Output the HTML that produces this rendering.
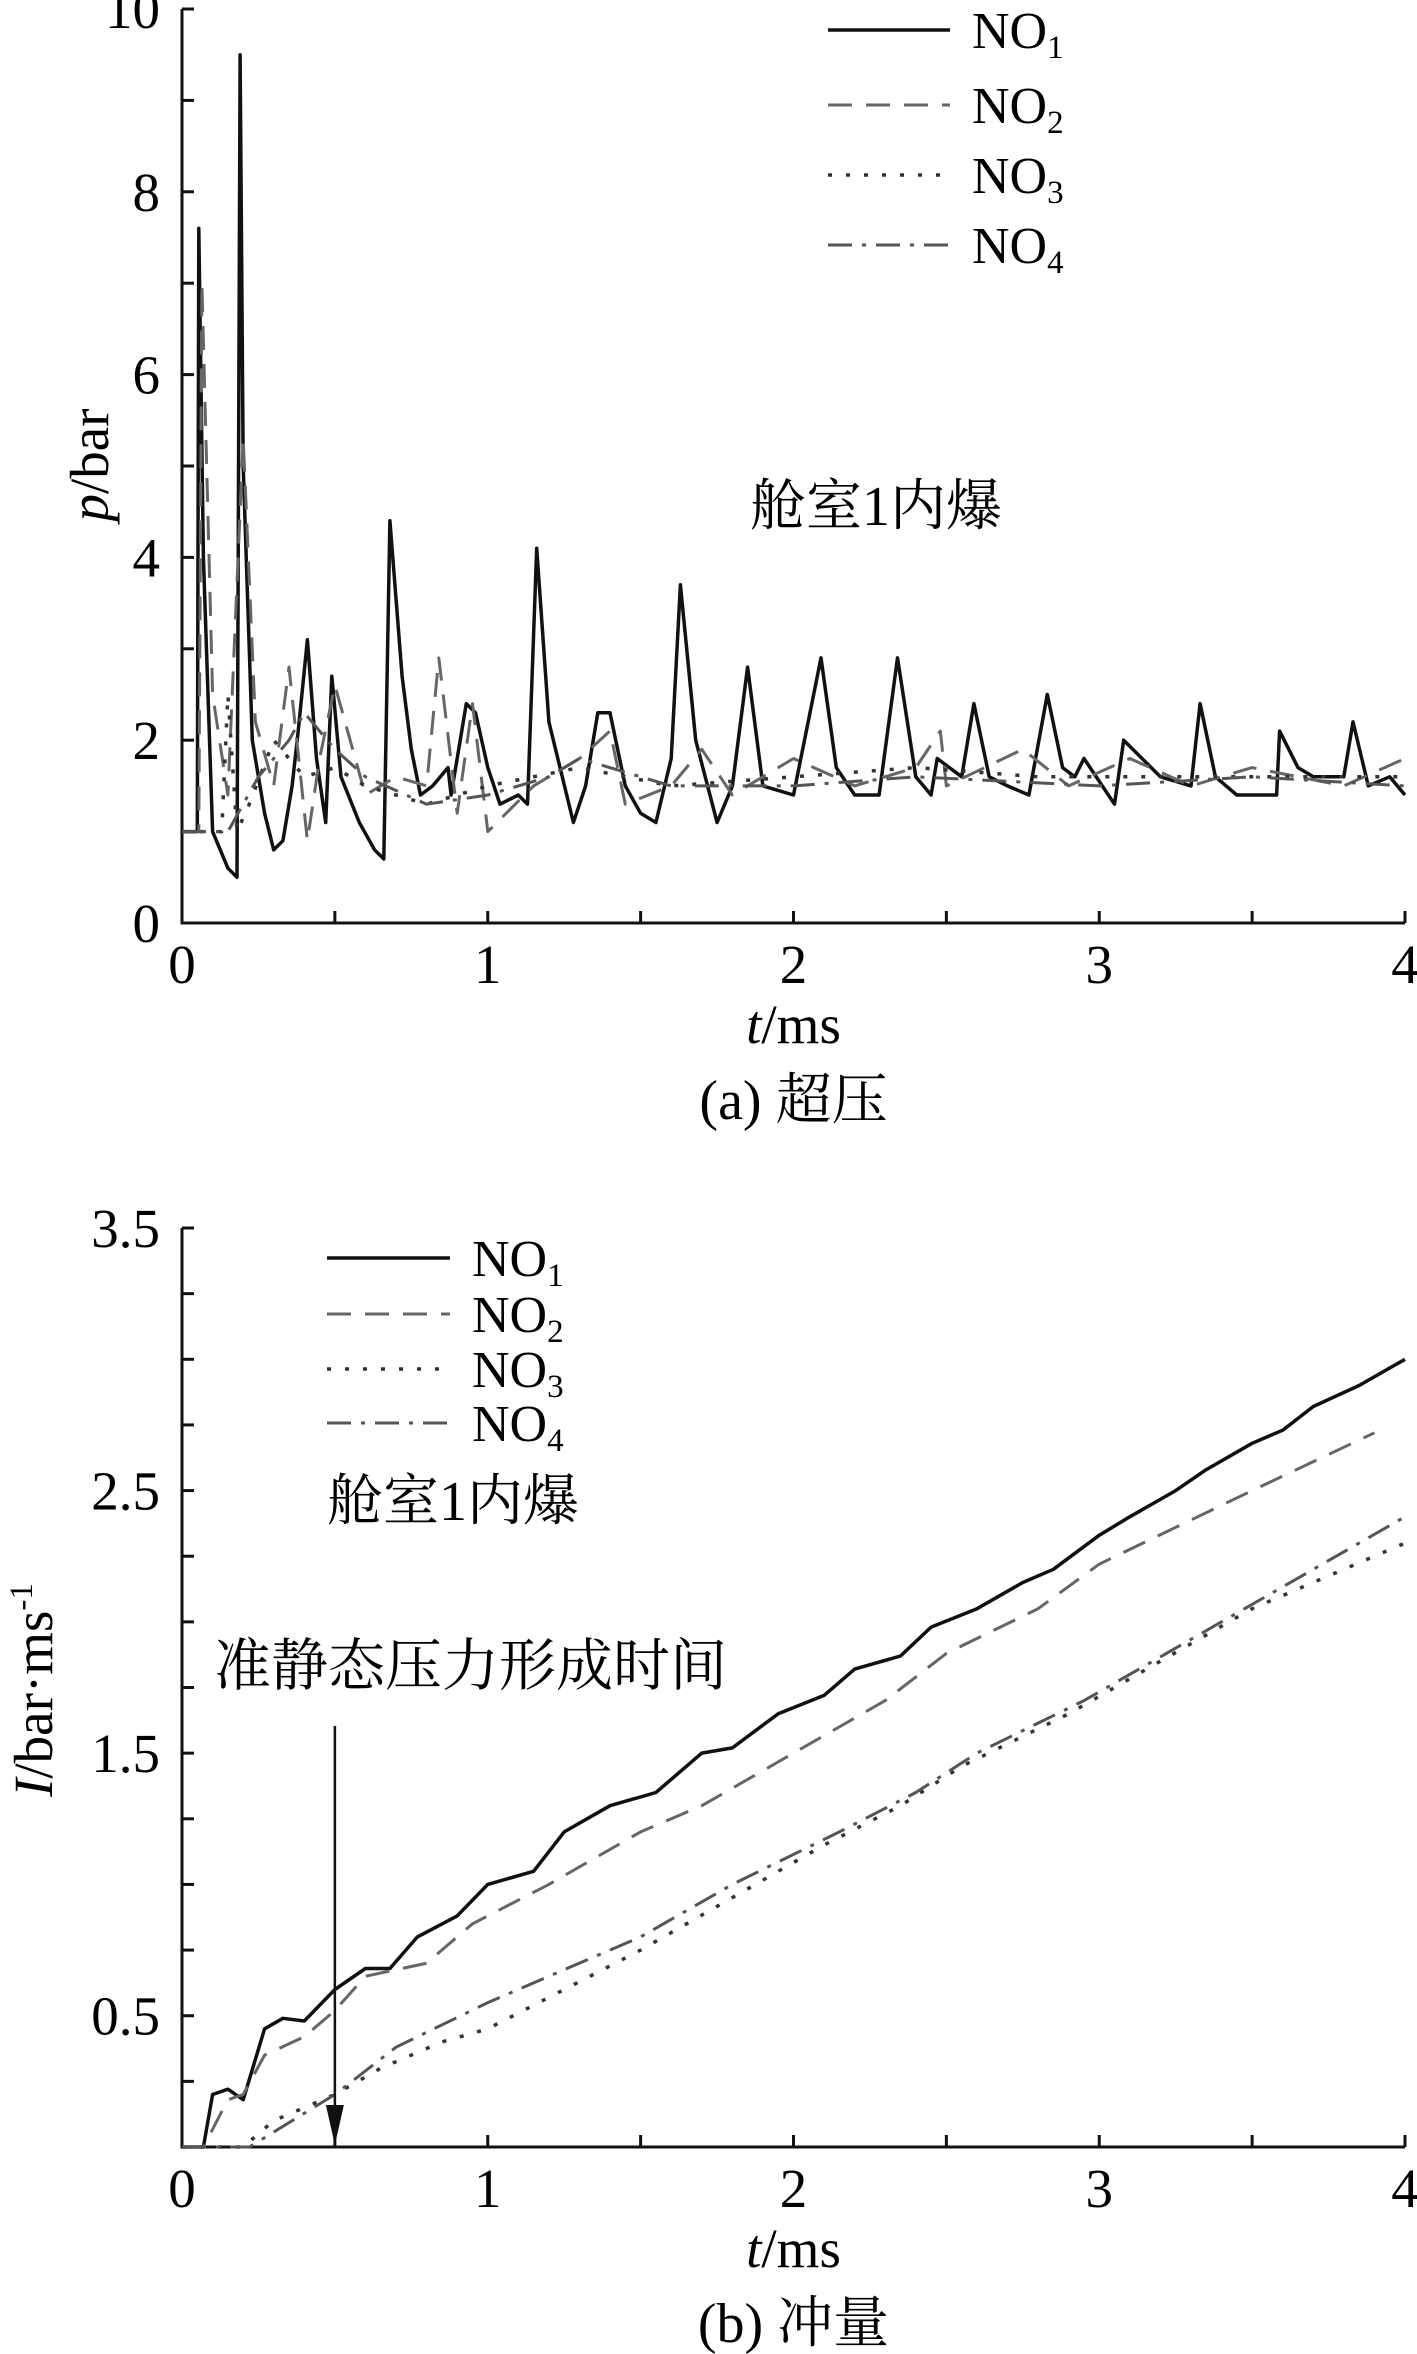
<!DOCTYPE html>
<html><head><meta charset="utf-8">
<style>
html,body{margin:0;padding:0;background:#fff;}
svg{display:block;font-family:"Liberation Serif","Noto Serif CJK SC",serif;}
</style></head>
<body>
<svg id="fig" width="1417" height="2354" viewBox="0 0 1417 2354" xmlns="http://www.w3.org/2000/svg"></svg>
<script>
// ---- data: (a) overpressure ----
const aT1=[0,0.05,0.055,0.07,0.1,0.15,0.18,0.19,0.2,0.23,0.27,0.3,0.33,0.36,0.38,0.41,0.44,0.47,0.49,0.52,0.58,0.63,0.66,0.68,0.72,0.75,0.78,0.82,0.87,0.88,0.93,0.96,1.0,1.04,1.1,1.13,1.16,1.2,1.28,1.32,1.36,1.4,1.45,1.5,1.55,1.6,1.63,1.68,1.75,1.8,1.85,1.9,2.0,2.09,2.14,2.2,2.28,2.34,2.4,2.45,2.47,2.55,2.59,2.64,2.7,2.77,2.83,2.88,2.92,2.95,3.05,3.08,3.2,3.3,3.33,3.38,3.45,3.58,3.59,3.65,3.7,3.8,3.83,3.88,3.95,4.0];
const aP1=[1.0,1.0,7.6,4.0,1.0,0.6,0.5,9.5,5.0,2.0,1.2,0.8,0.9,1.5,2.1,3.1,1.8,1.1,2.7,1.6,1.1,0.8,0.7,4.4,2.7,1.9,1.4,1.5,1.7,1.4,2.4,2.3,1.7,1.3,1.4,1.3,4.1,2.2,1.1,1.5,2.3,2.3,1.5,1.2,1.1,1.8,3.7,2.0,1.1,1.5,2.8,1.5,1.4,2.9,1.7,1.4,1.4,2.9,1.6,1.4,1.8,1.6,2.4,1.6,1.5,1.4,2.5,1.7,1.6,1.8,1.3,2.0,1.6,1.5,2.4,1.6,1.4,1.4,2.1,1.7,1.6,1.6,2.2,1.5,1.6,1.4];
const aT2=[0,0.055,0.065,0.1,0.15,0.2,0.24,0.3,0.35,0.41,0.45,0.5,0.6,0.7,0.8,0.84,0.9,0.95,1.0,1.15,1.3,1.4,1.45,1.6,1.7,1.8,2.0,2.2,2.4,2.48,2.5,2.75,2.9,3.1,3.3,3.5,3.8,4.0];
const aP2=[1.0,1.0,7.0,2.5,1.4,5.3,2.2,1.5,2.8,0.9,1.8,2.6,1.4,1.6,1.5,2.9,1.2,2.4,1.0,1.5,1.8,2.1,1.3,1.5,1.9,1.4,1.8,1.5,1.7,2.1,1.5,1.9,1.5,1.8,1.5,1.7,1.5,1.8];
const aT3=[0,0.13,0.15,0.18,0.22,0.3,0.4,0.5,0.6,0.8,1.0,1.3,1.6,2.0,2.4,2.8,3.2,3.6,4.0];
const aP3=[1.0,1.0,2.5,1.0,1.3,2.0,1.6,1.7,1.5,1.3,1.5,1.7,1.5,1.6,1.7,1.6,1.6,1.6,1.6];
const aT4=[0,0.15,0.25,0.35,0.4,0.5,0.6,0.8,1.0,1.2,1.3,1.6,2.0,2.4,3.0,3.5,4.0];
const aP4=[1.0,1.0,1.6,2.0,2.3,1.9,1.6,1.3,1.4,1.6,1.8,1.5,1.5,1.6,1.5,1.6,1.5];
// ---- data: (b) impulse ----
const bT1=[0,0.07,0.1,0.15,0.2,0.27,0.33,0.4,0.5,0.6,0.68,0.77,0.9,1.0,1.15,1.25,1.4,1.55,1.7,1.8,1.95,2.1,2.2,2.35,2.45,2.6,2.75,2.85,3.0,3.1,3.25,3.35,3.5,3.6,3.7,3.85,4.0];
const bI1=[0,0,0.2,0.22,0.18,0.45,0.49,0.48,0.6,0.68,0.68,0.8,0.88,1.0,1.05,1.2,1.3,1.35,1.5,1.52,1.65,1.72,1.82,1.87,1.98,2.05,2.15,2.2,2.33,2.4,2.5,2.58,2.68,2.73,2.82,2.9,3.0];
const bT2=[0,0.07,0.15,0.2,0.27,0.4,0.5,0.6,0.8,0.95,1.2,1.5,1.7,2.0,2.3,2.5,2.8,3.0,3.5,3.9];
const bI2=[0,0,0.18,0.2,0.35,0.42,0.52,0.65,0.7,0.85,1.0,1.2,1.3,1.5,1.7,1.88,2.05,2.22,2.5,2.72];
const bT3=[0,0.2,0.3,0.5,0.65,0.85,1.0,1.25,1.5,1.8,2.1,2.35,2.55,2.9,3.2,3.5,4.0];
const bI3=[0,0,0.1,0.2,0.3,0.4,0.45,0.6,0.75,0.95,1.15,1.3,1.45,1.65,1.85,2.05,2.3];
const bT4=[0,0.22,0.5,0.7,1.0,1.2,1.5,1.8,2.15,2.4,2.6,2.95,3.25,3.55,4.0];
const bI4=[0,0,0.2,0.38,0.55,0.65,0.8,1.0,1.2,1.35,1.5,1.7,1.9,2.1,2.4];
const xTicks=[0,1,2,3,4];
const aYTicks=[0,2,4,6,8,10];
const bYTicks=[0.5,1.5,2.5,3.5];

const NS="http://www.w3.org/2000/svg";
const svg=document.getElementById('fig');
function mk(tag,attrs,parent){const e=document.createElementNS(NS,tag);for(const k in attrs)e.setAttribute(k,attrs[k]);(parent||svg).appendChild(e);return e;}
const styles=[
 {stroke:'#111',dash:'',w:3.5},
 {stroke:'#666',dash:'24,14',w:3},
 {stroke:'#333',dash:'4,14',w:3.5},
 {stroke:'#555',dash:'24,10,4,10',w:3}
];
const X0=182,X1=1405;
function xs(t){return X0+(X1-X0)*t/4;}

function drawPanel(cfg){
  const g=mk('g',{});
  
  
  const ys=v=>cfg.y0+(cfg.yTop-cfg.y0)*(v-cfg.ymin)/(cfg.ymax-cfg.ymin);
  const ax=mk('path',{d:`M${X0},${ys(cfg.ymax)} L${X0},${cfg.y0} L${X1},${cfg.y0}`,stroke:'#111','stroke-width':3,fill:'none'},g);
  
  
  for(let t=0;t<=4.001;t+=0.5){mk('line',{x1:xs(t),x2:xs(t),y1:cfg.y0,y2:cfg.y0-12,stroke:'#111','stroke-width':3},g);}
  for(let v=cfg.ymin;v<=cfg.ymax+1e-6;v+=cfg.minor){mk('line',{x1:X0,x2:X0+12,y1:ys(v),y2:ys(v),stroke:'#111','stroke-width':3},g);}
  xTicks.forEach(t=>{const e=mk('text',{x:xs(t),y:cfg.y0+60,'font-size':55,'text-anchor':'middle'},g);e.textContent=t;
    
    });
  cfg.yTicks.forEach(v=>{const e=mk('text',{x:160,y:ys(v)+19,'font-size':55,'text-anchor':'end'},g);e.textContent=v;
    
    });
  cfg.series.forEach((s,i)=>{
    const d=s.t.map((t,j)=>(j?'L':'M')+xs(t).toFixed(1)+','+ys(s.v[j]).toFixed(1)).join(' ');
    const p=mk('path',{d:d,fill:'none',stroke:styles[i].stroke,'stroke-width':styles[i].w,'stroke-dasharray':styles[i].dash,'stroke-linejoin':'round'},g);
    
    
  });
  cfg.legY.forEach((y,i)=>{
    mk('line',{x1:cfg.legX1,x2:cfg.legX2,y1:y,y2:y,stroke:styles[i].stroke,'stroke-width':styles[i].w,'stroke-dasharray':styles[i].dash},g);
    const e=mk('text',{x:cfg.legTx,y:y+18,'font-size':52},g);
    e.innerHTML='NO<tspan font-size="33" dy="10">'+(i+1)+'</tspan>';
    
    
  });
  const xt=mk('text',{x:(X0+X1)/2,y:cfg.y0+120,'font-size':55,'text-anchor':'middle'},g);
  xt.innerHTML='<tspan font-style="italic">t</tspan>/ms';
  
  
  const cap=mk('text',{x:(X0+X1)/2,y:cfg.capY,'font-size':56,'text-anchor':'middle'},g);
  cap.textContent=cfg.caption;
  
  
  return ys;
}

drawPanel({name:'overpressure-chart',y0:923,yTop:9,ymin:0,ymax:10,minor:1,yTicks:aYTicks,
  series:[{t:aT1,v:aP1},{t:aT2,v:aP2},{t:aT3,v:aP3},{t:aT4,v:aP4}],
  legY:[30,105,175,245],legX1:828,legX2:950,legTx:972,capY:1119,caption:'(a) 超压'});
let e=mk('text',{x:108,y:465,'font-size':55,'text-anchor':'middle',transform:'rotate(-90 108 465)'});
e.innerHTML='<tspan font-style="italic">p</tspan>/bar';


e=mk('text',{x:750,y:525,'font-size':56});
e.textContent='舱室1内爆';



drawPanel({name:'impulse-chart',y0:2147,yTop:1228,ymin:0,ymax:3.5,minor:0.25,yTicks:bYTicks,
  series:[{t:bT1,v:bI1},{t:bT2,v:bI2},{t:bT3,v:bI3},{t:bT4,v:bI4}],
  legY:[1258,1314,1369,1423],legX1:327,legX2:450,legTx:472,capY:2342,caption:'(b) 冲量'});
e=mk('text',{x:52,y:1690,'font-size':55,'text-anchor':'middle',transform:'rotate(-90 52 1690)'});
e.innerHTML='<tspan font-style="italic">I</tspan>/bar·ms<tspan font-size="33" dy="-20">-1</tspan>';


e=mk('text',{x:327,y:1520,'font-size':56});
e.textContent='舱室1内爆';


e=mk('text',{x:214,y:1685,'font-size':57});
e.textContent='准静态压力形成时间';


const ax=xs(0.5);
e=mk('line',{x1:ax,x2:ax,y1:1726,y2:2110,stroke:'#111','stroke-width':2.5});


e=mk('path',{d:`M${ax-9},2105 L${ax+9},2105 L${ax},2145 Z`,fill:'#111'});


</script>
</body></html>
